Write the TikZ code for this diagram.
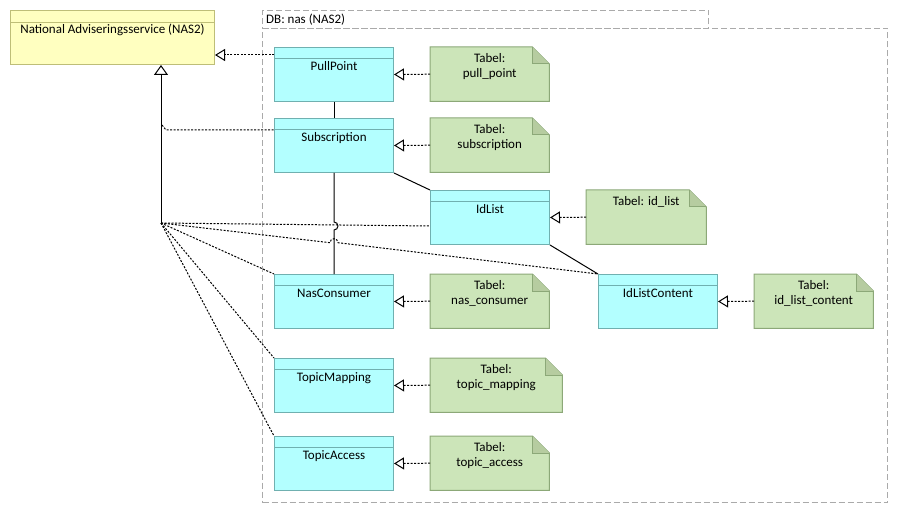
\documentclass[tikz,border=0pt]{standalone}
\usepackage{fontspec}
\setmainfont{Carlito}
\usetikzlibrary{arrows.meta,backgrounds}
\definecolor{classfill}{RGB}{179,255,255}
\definecolor{classdraw}{RGB}{112,176,176}
\definecolor{notefill}{RGB}{204,229,185}
\definecolor{notedraw}{RGB}{140,168,120}
\definecolor{foldfill}{RGB}{182,204,160}
\definecolor{nasfill}{RGB}{255,255,192}
\definecolor{nasdraw}{RGB}{190,190,120}
\definecolor{pkgdraw}{RGB}{170,170,170}
\newcommand\tbl[2]{\begin{tabular}[t]{@{}c@{}}#1\\#2\end{tabular}}
\newcommand\notedraw[1]{%
  \begin{pgfonlayer}{background}
  \draw[fill=notefill,draw=notedraw,line width=1pt] (#1.north west) -- ([xshift=-17pt]#1.north east) -- ([yshift=-17pt]#1.north east) -- (#1.south east) -- (#1.south west) -- cycle;
  \draw[fill=foldfill,draw=notedraw,line width=1pt] ([xshift=-17pt]#1.north east) -- ([xshift=-17pt,yshift=-17pt]#1.north east) -- ([yshift=-17pt]#1.north east);
  \end{pgfonlayer}}
\begin{document}
\begin{tikzpicture}[x=1pt,y=-1pt,font=\fontsize{13}{15}\selectfont,
  classbox/.style={draw=classdraw,fill=classfill,line width=1pt,minimum width=119pt,minimum height=54pt,anchor=north west,inner sep=0pt,
    path picture={\draw[classdraw,line width=1pt] ([yshift=-11pt]path picture bounding box.north west) -- ([yshift=-11pt]path picture bounding box.north east);},
    label={[anchor=base,yshift=-23.5pt,inner sep=0pt]north:#1}},
  notebox/.style={draw=none,minimum height=54pt,anchor=north west,inner sep=0pt,
    label={[anchor=base,yshift=-15.5pt,inner sep=0pt]north:{#1}}},
  pkgline/.style={draw=pkgdraw,line width=1pt,dash pattern=on 6pt off 3pt,anchor=north west,inner sep=0pt},
  real/.style={line width=1pt,dash pattern=on 2pt off 1.5pt,-{Triangle[open,length=10pt,width=12pt,line width=1pt]}},
  dep/.style={line width=1pt,dash pattern=on 2pt off 1.5pt},
  assoc/.style={line width=1pt},
  gen/.style={line width=1pt,-{Triangle[open,length=10pt,width=14pt,line width=1pt]}}]
\useasboundingbox (0,0) rectangle (897,513);
% package frame
\node[pkgline,minimum width=446pt,minimum height=18pt,
  label={[anchor=base west,xshift=4pt,yshift=-14pt,inner sep=0pt]north west:{DB: nas (NAS2)}}] (tab) at (262,10) {};
\node[pkgline,minimum width=625pt,minimum height=474pt] (pkg) at (262,28) {};
% NAS2
\node[draw=nasdraw,fill=nasfill,line width=1pt,minimum width=204pt,minimum height=54pt,anchor=north west,inner sep=0pt,
  path picture={\draw[nasdraw,line width=1pt] ([yshift=-12pt]path picture bounding box.north west) -- ([yshift=-12pt]path picture bounding box.north east);},
  label={[anchor=base,yshift=-24pt,inner sep=0pt]north:{National Adviseringsservice (NAS2)}}] (nas) at (10,10) {};
% classes
\node[classbox=PullPoint] (pp) at (274,47) {};
\node[classbox=Subscription] (sub) at (274,118) {};
\node[classbox=IdList] (idl) at (430,190) {};
\node[classbox=NasConsumer] (nc) at (274,274) {};
\node[classbox=IdListContent] (idc) at (598,274) {};
\node[classbox=TopicMapping] (tm) at (274,358) {};
\node[classbox=TopicAccess] (ta) at (274,436) {};
% notes
\node[notebox={\tbl{Tabel:}{pull\_point}},minimum width=119pt] (npp) at (430,47) {}; \notedraw{npp}
\node[notebox={\tbl{Tabel:}{subscription}},minimum width=119pt] (nsub) at (430,118) {}; \notedraw{nsub}
\node[notebox={Tabel: id\_list},minimum width=120pt] (nidl) at (586,190) {}; \notedraw{nidl}
\node[notebox={\tbl{Tabel:}{nas\_consumer}},minimum width=119pt] (nnc) at (430,274) {}; \notedraw{nnc}
\node[notebox={\tbl{Tabel:}{id\_list\_content}},minimum width=119pt] (nidc) at (754,274) {}; \notedraw{nidc}
\node[notebox={\tbl{Tabel:}{topic\_mapping}},minimum width=132pt] (ntm) at (430,358) {}; \notedraw{ntm}
\node[notebox={\tbl{Tabel:}{topic\_access}},minimum width=119pt] (nta) at (430,436) {}; \notedraw{nta}
% note realizations
\draw[real] (npp.west) -- (pp.east);
\draw[real] (nsub.west) -- (sub.east);
\draw[real] (nidl.west) -- (idl.east);
\draw[real] (nnc.west) -- (nc.east);
\draw[real] (nidc.west) -- (idc.east);
\draw[real] (ntm.west) -- (tm.east);
\draw[real] (nta.west) -- (ta.east);
% realization of NAS2
\coordinate (ppa) at ([yshift=-8pt]pp.north west);
\draw[real] (ppa) -- (nas.east |- ppa);
\coordinate (hub) at (161,223);
\draw[gen] (hub) -- (hub |- nas.south);
\coordinate (sj) at (162,125);
\coordinate (sja) at ([yshift=-12pt]sub.north west);
\draw[dep] (sj) -- (166,130) -- (sja);
\draw[dep] (hub) -- (idl.west |- 0,226);
\draw[dep] (hub) -- (330,242.7) arc[start angle=180,end angle=0,radius=4pt] -- (idc.north west);
\draw[dep] (hub) -- (nc.north west);
\draw[dep] (hub) -- (tm.north west);
\draw[dep] (hub) -- (ta.north west);
% associations
\draw[assoc] (pp.south) -- (sub.north);
\draw[assoc] (sub.south east) -- (idl.north west);
\draw[assoc] (idl.south east) -- (idc.north west);
\draw[assoc] (sub.south) -- (sub.south |- 0,222) arc[start angle=90,end angle=-90,radius=4pt] -- (nc.north);
\end{tikzpicture}
\end{document}
